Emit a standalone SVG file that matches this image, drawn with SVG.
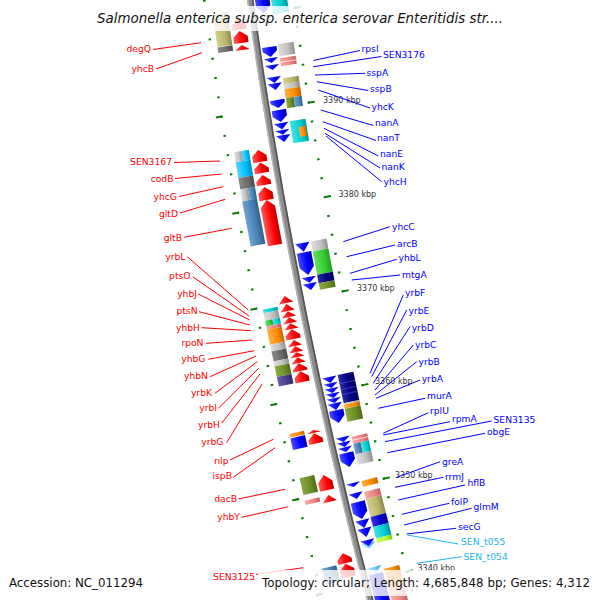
<svg xmlns="http://www.w3.org/2000/svg" width="600" height="600" viewBox="0 0 600 600">
<style>
text{font-family:"DejaVu Sans","Liberation Sans",sans-serif}
.lr{font-size:9.2px;fill:#f00;text-anchor:end}
.lb{font-size:9.2px;fill:#00f}
.lt{font-size:9.2px;fill:#22b8ee}
.k{font-size:8px;fill:#333}
.cr{stroke:#f00;stroke-width:1;fill:none}
.cb{stroke:#00f;stroke-width:1;fill:none}
.ct{stroke:#22b8ee;stroke-width:1;fill:none}
.tk{fill:none;stroke:#0b7a0b}
.R{fill:url(#gR)}.B{fill:url(#gB)}.LB{fill:url(#gLB)}.kh{fill:url(#gKh)}.dg{fill:url(#gDg)}.sv{fill:url(#gSv)}
.co{fill:url(#gCo)}.or{fill:url(#gOr)}.ol{fill:url(#gOl)}.st{fill:url(#gSt)}.cy{fill:url(#gCy)}.sk{fill:url(#gSk)}
.lm{fill:url(#gLm)}.nv{fill:url(#gNv)}.ds{fill:url(#gDs)}.mb{fill:url(#gMb)}.gy{fill:url(#gGy)}
</style>
<defs>
<linearGradient id="gR"><stop offset="0" stop-color="#ff5a5a"/><stop offset=".6" stop-color="#f00"/><stop offset="1" stop-color="#b00"/></linearGradient>
<linearGradient id="gB"><stop offset="0" stop-color="#4a4aff"/><stop offset=".6" stop-color="#00f"/><stop offset="1" stop-color="#0000a8"/></linearGradient>
<linearGradient id="gLB"><stop offset="0" stop-color="#c0eaff"/><stop offset=".6" stop-color="#66c8ff"/><stop offset="1" stop-color="#2a9ad0"/></linearGradient>
<linearGradient id="gKh"><stop offset="0" stop-color="#d4cf90"/><stop offset=".6" stop-color="#bdb76b"/><stop offset="1" stop-color="#8e894f"/></linearGradient>
<linearGradient id="gDg"><stop offset="0" stop-color="#8a8a8a"/><stop offset=".6" stop-color="#696969"/><stop offset="1" stop-color="#4a4a4a"/></linearGradient>
<linearGradient id="gSv"><stop offset="0" stop-color="#dedede"/><stop offset=".6" stop-color="#c0c0c0"/><stop offset="1" stop-color="#909090"/></linearGradient>
<linearGradient id="gCo"><stop offset="0" stop-color="#f7aaaa"/><stop offset=".6" stop-color="#f08080"/><stop offset="1" stop-color="#c06060"/></linearGradient>
<linearGradient id="gOr"><stop offset="0" stop-color="#ffad45"/><stop offset=".6" stop-color="#ff8c00"/><stop offset="1" stop-color="#c06800"/></linearGradient>
<linearGradient id="gOl"><stop offset="0" stop-color="#8aaa44"/><stop offset=".6" stop-color="#6b8e23"/><stop offset="1" stop-color="#4d6a18"/></linearGradient>
<linearGradient id="gSt"><stop offset="0" stop-color="#70a3d0"/><stop offset=".6" stop-color="#4682b4"/><stop offset="1" stop-color="#345f86"/></linearGradient>
<linearGradient id="gCy"><stop offset="0" stop-color="#45e2e5"/><stop offset=".6" stop-color="#00ced1"/><stop offset="1" stop-color="#009a9c"/></linearGradient>
<linearGradient id="gSk"><stop offset="0" stop-color="#55d5ff"/><stop offset=".6" stop-color="#00bfff"/><stop offset="1" stop-color="#008fc0"/></linearGradient>
<linearGradient id="gLm"><stop offset="0" stop-color="#62e062"/><stop offset=".6" stop-color="#32cd32"/><stop offset="1" stop-color="#259a25"/></linearGradient>
<linearGradient id="gNv"><stop offset="0" stop-color="#2a2aa0"/><stop offset=".6" stop-color="#000080"/><stop offset="1" stop-color="#000058"/></linearGradient>
<linearGradient id="gDs"><stop offset="0" stop-color="#6a60a8"/><stop offset=".6" stop-color="#483d8b"/><stop offset="1" stop-color="#342c66"/></linearGradient>
<linearGradient id="gMb"><stop offset="0" stop-color="#3535e0"/><stop offset=".6" stop-color="#0000cd"/><stop offset="1" stop-color="#000098"/></linearGradient>
<linearGradient id="gGy"><stop offset="0" stop-color="#caff75"/><stop offset=".6" stop-color="#adff2f"/><stop offset="1" stop-color="#82c020"/></linearGradient>
</defs>
<rect width="600" height="600" fill="#fff"/>

<g id="backbone" fill="none">
<path d="M239.481,-82.102A5112,5112 0 0 0 390.623,675.818" stroke="#8c8c8c" stroke-width="6"/>
<path d="M237,-81.8A5114.5,5114.5 0 0 0 388.215,676.491" stroke="#b8b8b8" stroke-width="1.5"/>
<path d="M241.963,-82.404A5109.5,5109.5 0 0 0 393.03,675.145" stroke="#555" stroke-width="1.8"/>
</g>

<g id="ruler" class="tk">
<path d="M282.166,-87.3A5069,5069 0 0 0 432.046,664.245" stroke-width="2.5" stroke-dasharray="2 17.177" stroke-dashoffset="1"/>
<path d="M284.647,-87.602A5066.5,5066.5 0 0 0 434.454,663.57" stroke-width="7" stroke-dasharray="2 93.836" stroke-dashoffset="1"/>
<path d="M194.315,-76.603A5157.5,5157.5 0 0 0 346.801,688.064" stroke-width="2.5" stroke-dasharray="2 17.512" stroke-dashoffset="1"/>
<path d="M191.833,-76.3A5160,5160 0 0 0 344.394,688.737" stroke-width="6.5" stroke-dasharray="2 95.607" stroke-dashoffset="1"/>
</g>
<g id="ruler-labels" class="k">
<text x="323" y="103">3390 kbp</text>
<text x="338.5" y="197">3380 kbp</text>
<text x="357" y="291">3370 kbp</text>
<text x="375" y="384">3360 kbp</text>
<text x="395" y="477.5">3350 kbp</text>
<text x="417.5" y="570.5">3340 kbp</text>
</g>

<g id="sec-a" transform="translate(257.32 50) rotate(-8.436)">
<rect class="kh" x="-39" y="-42.1" width="15" height="33.4"/>
<rect class="dg" x="-39" y="-8.3" width="15" height="5.6"/>
<path class="R" d="M-22 -22.9H-7.5V-27.5L-14.75 -33.5L-22 -27.5Z"/>
<path class="R" d="M-22 -9.3H-7.5V-15.4L-14.75 -21.4L-22 -15.4Z"/>
<path class="R" d="M-22 -2.2H-7.5L-14.75 -7.2Z"/>
<path class="B" d="M5 -63.9H19.5V-42.6L12.25 -35.6L5 -42.6Z"/>
<path class="B" d="M5 -1.2H19.5V2.9L12.25 8.9L5 2.9Z"/>
<path class="B" d="M5 10H19.5L12.25 15Z"/>
<path class="B" d="M5 17H19.5L12.25 22Z"/>
<path class="B" d="M5 29.1H19.5L12.25 35.2Z"/>
<path class="B" d="M5 35.6H19.5L12.25 42.3Z"/>
<rect class="cy" x="21" y="-61.4" width="16" height="28.3"/>
<rect class="sv" x="21" y="-2.8" width="16" height="12.15"/>
<rect class="co" x="21" y="11.4" width="16" height="8.1"/>
<line x1="21" y1="15.4" x2="37" y2="15.4" stroke="#fff" stroke-width=".7"/>
<rect class="kh" x="21" y="31.6" width="16" height="6.1"/>
<rect class="sv" x="21" y="37.7" width="16" height="5"/>
<rect class="or" x="21" y="42.7" width="16" height="9.1"/>
<rect class="ol" x="21" y="51.8" width="8" height="10.1"/>
<rect class="st" x="29" y="51.8" width="8" height="10.1"/>
</g>

<g id="sec-b" transform="translate(273.16 150) rotate(-9.571)">
<path class="B" d="M5 -48.6H19.5V-45.5L12.25 -40.5L5 -45.5Z"/>
<path class="B" d="M5 -38.5H19.5V-32.3L12.25 -26.3L5 -32.3Z"/>
<path class="B" d="M5 -25.3H19.5L12.25 -18.6Z"/>
<path class="B" d="M5 -18.2H19.5L12.25 -13.4Z"/>
<path class="B" d="M5 -13H19.5L12.25 -6Z"/>
<rect class="cy" x="21" y="-25.5" width="16" height="22.3"/>
<rect class="or" x="29" y="-18.4" width="7" height="10.1"/>
<path class="R" d="M-22 9.7H-7.5V3.5L-14.75 -2.5L-22 3.5Z"/>
<path class="R" d="M-22 20.8H-7.5V16.3L-14.75 10.3L-22 16.3Z"/>
<path class="R" d="M-22 33H-7.5V28.9L-14.75 22.9L-22 28.9Z"/>
<path class="R" d="M-22 48.2H-7.5V41L-14.75 35L-22 41Z"/>
<rect class="sv" x="-39" y="-4.3" width="7.5" height="10.1"/>
<rect class="sk" x="-31.5" y="-4.3" width="7.5" height="10.1"/>
<rect class="sk" x="-39" y="5.8" width="15" height="16"/>
<rect class="dg" x="-39" y="21.8" width="15" height="11.7"/>
<rect class="sv" x="-39" y="33.5" width="7.5" height="11.9"/>
<rect class="st" x="-31.5" y="33.5" width="7.5" height="11.9"/>
</g>

<g id="sec-c" transform="translate(291.05 250) rotate(-10.71)">
<rect class="st" x="-39" y="-56.8" width="15" height="45.8"/>
<path class="R" d="M-22 -7.9H-7.5V-46.7L-14.75 -53.7L-22 -46.7Z"/>
<path class="B" d="M5 -4.8H19.5L12.25 4Z"/>
<path class="B" d="M5 4.8H19.5V19.8L12.25 27.8L5 19.8Z"/>
<path class="B" d="M5 29.8H19.5L12.25 35.6Z"/>
<path class="B" d="M5 36.2H19.5L12.25 43Z"/>
<rect class="sv" x="21" y="-4.7" width="16" height="10.2"/>
<rect class="lm" x="21" y="5.5" width="16" height="23.7"/>
<rect class="nv" x="21" y="29.2" width="16" height="8.55"/>
<rect class="ol" x="21" y="37.75" width="16" height="6.7"/>
</g>

<g id="sec-d" transform="translate(311 350) rotate(-11.853)">
<path class="R" d="M-22 -51.1H-7.5L-14.75 -58.3Z"/>
<path class="R" d="M-22 -42.9H-7.5L-14.75 -50.1Z"/>
<path class="R" d="M-22 -36.8H-7.5L-14.75 -42.6Z"/>
<path class="R" d="M-22 -30.7H-7.5L-14.75 -36.5Z"/>
<path class="R" d="M-22 -24.6H-7.5L-14.75 -30.4Z"/>
<path class="R" d="M-22 -14.3H-7.5V-18.3L-14.75 -24.3L-22 -18.3Z"/>
<path class="R" d="M-22 -7.2H-7.5L-14.75 -13.3Z"/>
<path class="R" d="M-22 -1.1H-7.5L-14.75 -7Z"/>
<path class="R" d="M-22 4.1H-7.5L-14.75 -0.9Z"/>
<path class="R" d="M-22 10.2H-7.5L-14.75 4.3Z"/>
<path class="R" d="M-22 18.4H-7.5V16.4L-14.75 10.4L-22 16.4Z"/>
<path class="R" d="M-22 29.6H-7.5V24.6L-14.75 18.6L-22 24.6Z"/>
<rect class="cy" x="-39" y="-49.2" width="15" height="3.5"/>
<rect class="sv" x="-39" y="-45.7" width="15" height="7.7"/>
<rect class="lm" x="-39" y="-38" width="7.5" height="5.8"/>
<rect class="cy" x="-31.5" y="-38" width="7.5" height="5.8"/>
<rect class="co" x="-39" y="-32.2" width="15" height="3.4"/>
<rect class="or" x="-39" y="-28.8" width="15" height="15.3"/>
<rect class="sv" x="-39" y="-13.5" width="15" height="6.9"/>
<rect class="dg" x="-39" y="-6.6" width="15" height="10.2"/>
<rect class="sv" x="-39" y="3.6" width="15" height="5.1"/>
<rect class="ol" x="-39" y="8.7" width="15" height="10.7"/>
<rect class="ds" x="-39" y="19.4" width="15" height="9.8"/>
<path class="B" d="M5 30.2H19.5L12.25 36.3Z"/>
<path class="B" d="M5 36.5H19.5L12.25 41.4Z"/>
<path class="B" d="M5 41.6H19.5L12.25 46.5Z"/>
<path class="B" d="M5 46.7H19.5L12.25 51.6Z"/>
<path class="B" d="M5 51.8H19.5L12.25 56.7Z"/>
<path class="B" d="M5 56.9H19.5L12.25 63.9Z"/>
<path class="B" d="M5 64.1H19.5V70.2L12.25 77.2L5 70.2Z"/>
<rect class="nv" x="21" y="29.9" width="16" height="29"/>
<path d="M21 38.8H37M21 44.9H37M21 50H37" stroke="#4a4ab8" stroke-width=".7"/>
<rect class="sv" x="21" y="58.9" width="16" height="1.35"/>
<rect class="or" x="21" y="60.25" width="16" height="4.1"/>
<rect class="ol" x="21" y="64.35" width="16" height="13.3"/>
</g>

<g id="sec-e" transform="translate(333.03 450) rotate(-13)">
<path class="B" d="M5 -10.5H19.5L12.25 -5.4Z"/>
<path class="B" d="M5 -5.2H19.5L12.25 -0.2Z"/>
<path class="B" d="M5 0H19.5L12.25 4.9Z"/>
<path class="B" d="M5 5.9H19.5V13.3L12.25 20.3L5 13.3Z"/>
<rect class="co" x="21" y="-8.7" width="16" height="7.2"/>
<line x1="21" y1="-5.1" x2="37" y2="-5.1" stroke="#fff" stroke-width=".7"/>
<rect class="st" x="21" y="-1.5" width="7.5" height="10.8"/>
<rect class="cy" x="28.5" y="-1.5" width="8.5" height="10.8"/>
<rect class="sv" x="21" y="9.3" width="16" height="10.7"/>
<path class="R" d="M-22 -20.9H-7.5L-14.75 -23.9Z"/>
<path class="R" d="M-22 -10.3H-7.5V-14.6L-14.75 -20.6L-22 -14.6Z"/>
<path class="R" d="M-22 37.7H-7.5V29.3L-14.75 22.3L-22 29.3Z"/>
<path class="R" d="M-22 49.7H-7.5L-14.75 42.8Z"/>
<rect class="or" x="-39" y="-25.4" width="15" height="3.8"/>
<rect class="B" x="-39" y="-20.9" width="15" height="11.9"/>
<rect class="ol" x="-39" y="20.1" width="15" height="17.1"/>
<rect class="co" x="-39" y="43" width="15" height="4.4"/>
</g>

<g id="sec-f" transform="translate(357.18 550) rotate(-14.153)">
<path class="B" d="M5 -66H19.5L12.25 -61.9Z"/>
<path class="B" d="M5 -55.7H19.5L12.25 -49.5Z"/>
<path class="B" d="M5 -46.4H19.5V-35.9L12.25 -28.9L5 -35.9Z"/>
<path class="B" d="M5 -27.8H19.5L12.25 -19.6Z"/>
<path class="B" d="M5 -19.4H19.5L12.25 -10.3Z"/>
<path class="LB" d="M5 -4.1H19.5L12.25 1.5Z"/>
<path class="B" d="M5 -7.2H19.5L12.25 -1Z"/>
<path class="LB" d="M5 20.5H19.5L12.25 27Z"/>
<path class="B" d="M5 27.5H19.5V65L12.25 72L5 65Z"/>
<rect class="or" x="21" y="-65.9" width="16" height="6.2"/>
<rect class="co" x="21" y="-54.6" width="16" height="7.25"/>
<rect class="kh" x="21" y="-47.35" width="16" height="18.57"/>
<rect class="mb" x="21" y="-28.78" width="16" height="10.31"/>
<rect class="cy" x="21" y="-18.47" width="16" height="11.86"/>
<rect class="gy" x="21" y="-6.61" width="16" height="4.64"/>
<rect class="or" x="21" y="24.9" width="16" height="20"/>
<rect class="co" x="21" y="45" width="16" height="25"/>
<path class="R" d="M-22 10H-7.5V5.7L-14.75 -0.3L-22 5.7Z"/>
<path class="R" d="M-22 24.1H-7.5V16.5L-14.75 10.5L-22 16.5Z"/>
<rect class="st" x="-39" y="9.6" width="15" height="16.5"/>
</g>

<g id="connectors">
<path class="cr" d="M153 49.5L201 42.7M156 69L202 52.7M174 162.5L220 161M175 178.5L221.7 174M179 196.5L223.3 186.7M180 213L225 199.3M184 237.3L231.7 228.3M187.3 256.7L248.3 310M192.7 276.7L249 316M198.3 294L249.7 320M199 311.7L250 325M201.7 327.7L251 330.7M206 343.3L252.3 340M208.3 359.3L254.3 350.7M210 376.7L256 356M215 393.3L257.3 361.7M218.3 408.3L258.7 368.3M221.7 423.3L260 374M226.7 442.7L262 384M230 460L273.3 439.3M233.3 477.3L275 447.7M238.3 499L285 489.3M241.7 517.3L288.3 506.7M256 574.3L303.3 567.7"/>
<path class="cb" d="M313.3 60.5L360 50.5M313.3 66.7L381.5 56.5M315 75L365 73.3M316.7 81.7L368.3 90.5M318.3 90L370 108M320.7 110L373.3 125.5M322.7 121.7L376 140.5M324 128.3L378.3 156M325 133.3L380 168M326 136L381.7 181.7M343.3 241.7L390 226.7M346.7 256.7L395 245M350 273.3L396.7 259.3M351.7 280L400 275M370 373.3L403.3 295M371.7 376.7L406.7 310M373.3 383.3L410 326.7M375 390L413.3 345M375 395L416.7 361.7M376 398.3L420 380M378.3 408.3L425 398.3M383.3 433.3L428.3 412.7M383.3 435L450 421.7M385 441.7L491.7 421M387.3 452.7L485 433.3M396.7 477.3L440 461.7M395 487.3L443.3 477.3M398.3 500L465 485M401.7 514.3L449.3 503.3M404 525L471.7 508.3M406.7 534L456 528.3"/>
<path class="ct" d="M407.3 535L458.3 544M416.7 563.3L461.7 556.7"/>
</g>

<g id="labels-left" class="lr">
<text x="151" y="52">degQ</text>
<text x="154" y="72">yhcB</text>
<text x="172" y="165">SEN3167</text>
<text x="173.5" y="181.5">codB</text>
<text x="177" y="200">yhcG</text>
<text x="178" y="217">gltD</text>
<text x="182" y="240.5">gltB</text>
<text x="185.5" y="260">yrbL</text>
<text x="190.5" y="279">ptsO</text>
<text x="197" y="297">yhbJ</text>
<text x="197.5" y="314">ptsN</text>
<text x="200" y="330.5">yhbH</text>
<text x="203.5" y="345.5">rpoN</text>
<text x="205.5" y="362">yhbG</text>
<text x="208" y="379">yhbN</text>
<text x="212" y="395.5">yrbK</text>
<text x="217" y="411">yrbI</text>
<text x="220" y="427.5">yrbH</text>
<text x="223.5" y="444.5">yrbG</text>
<text x="228.5" y="463.5">nlp</text>
<text x="232" y="478.5">ispB</text>
<text x="237" y="501.5">dacB</text>
<text x="240" y="520">yhbY</text>
<text x="255" y="579.5">SEN3125</text>
</g>

<g id="labels-right" class="lb">
<text x="361.5" y="52">rpsI</text>
<text x="383" y="57.5">SEN3176</text>
<text x="366.5" y="75.5">sspA</text>
<text x="370" y="92">sspB</text>
<text x="371.5" y="109.5">yhcK</text>
<text x="375" y="125.5">nanA</text>
<text x="377" y="141">nanT</text>
<text x="380" y="157">nanE</text>
<text x="381.5" y="169.5">nanK</text>
<text x="383.5" y="184.5">yhcH</text>
<text x="392" y="229.5">yhcC</text>
<text x="397" y="247">arcB</text>
<text x="398.5" y="261">yhbL</text>
<text x="402" y="277.5">mtgA</text>
<text x="405" y="295.5">yrbF</text>
<text x="408.5" y="314">yrbE</text>
<text x="411.7" y="330.5">yrbD</text>
<text x="415" y="347.5">yrbC</text>
<text x="418.5" y="364.5">yrbB</text>
<text x="421.7" y="382">yrbA</text>
<text x="427" y="399">murA</text>
<text x="430" y="414">rplU</text>
<text x="452" y="421.5">rpmA</text>
<text x="493.5" y="423">SEN3135</text>
<text x="487" y="435">obgE</text>
<text x="442" y="464.5">greA</text>
<text x="445" y="479.5">rrmJ</text>
<text x="467.5" y="485.5">hflB</text>
<text x="451" y="504.5">folP</text>
<text x="473.5" y="510">glmM</text>
<text x="458" y="529.5">secG</text>
<text class="lt" x="461" y="545">SEN_t055</text>
<text class="lt" x="463.5" y="560">SEN_t054</text>
</g>

<g id="legend">
<rect x="94" y="6" width="412" height="25" fill="#fff" fill-opacity=".8"/>
<rect x="6" y="570" width="141" height="26" fill="#fff" fill-opacity=".8"/>
<rect x="258" y="570" width="337" height="26" fill="#fff" fill-opacity=".8"/>
<text x="97" y="23" font-size="13.4" font-style="italic" fill="#111" textLength="406" lengthAdjust="spacing">Salmonella enterica subsp. enterica serovar Enteritidis str....</text>
<text x="9" y="586.5" font-size="11.8" fill="#111" textLength="134" lengthAdjust="spacing">Accession: NC_011294</text>
<text x="262" y="586.5" font-size="11.8" fill="#111" textLength="328" lengthAdjust="spacing">Topology: circular; Length: 4,685,848 bp; Genes: 4,312</text>
</g>
</svg>
